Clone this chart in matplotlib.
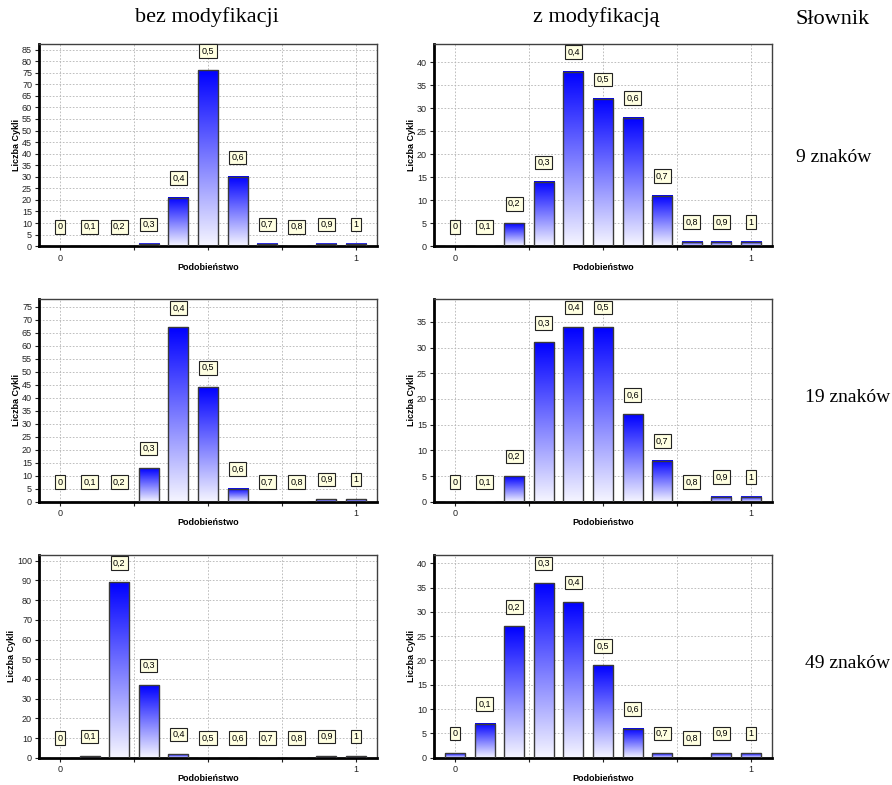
import numpy as np
import matplotlib
matplotlib.use("Agg")
import matplotlib.pyplot as plt
from matplotlib.colors import LinearSegmentedColormap

# Similarity classes 0..1 and cycle counts for each dictionary size
similarity = [0.0, 0.1, 0.2, 0.3, 0.4, 0.5, 0.6, 0.7, 0.8, 0.9, 1.0]
class_labels = ["0", "0,1", "0,2", "0,3", "0,4", "0,5", "0,6", "0,7", "0,8", "0,9", "1"]

plain_9 = [0, 0, 0, 1, 21, 76, 30, 1, 0, 1, 1]
modified_9 = [0, 0, 5, 14, 38, 32, 28, 11, 1, 1, 1]
plain_19 = [0, 0, 0, 13, 67, 44, 5, 0, 0, 1, 1]
modified_19 = [0, 0, 5, 31, 34, 34, 17, 8, 0, 1, 1]
plain_49 = [0, 1, 89, 37, 2, 0, 0, 0, 0, 1, 1]
modified_49 = [1, 7, 27, 36, 32, 19, 6, 1, 0, 1, 1]

column_titles = ["bez modyfikacji", "z modyfikacją", "Słownik"]
row_titles = ["9 znaków", "19 znaków", "49 znaków"]

# (counts, y max, y tick step) per panel, rows top to bottom
panels = [
    [(plain_9, 87.6, 5), (modified_9, 44.1, 5)],
    [(plain_19, 77.8, 5), (modified_19, 39.4, 5)],
    [(plain_49, 102.9, 10), (modified_49, 41.7, 5)],
]

W, H = 892, 785
fig = plt.figure(figsize=(W / 100, H / 100), dpi=100)
sans = "Liberation Sans"
serif = "Liberation Serif"

blue_fade = LinearSegmentedColormap.from_list("fade", ["#f6f6ff", "#0000ff"])
gradient = np.linspace(0, 1, 256).reshape(-1, 1)

col_left = [39, 434]
col_right = [377, 772]
row_top = [43.5, 299.3, 555]
row_bottom = [246.2, 501.7, 757.7]

for r in range(3):
    for c in range(2):
        counts, ymax, step = panels[r][c]
        ax = fig.add_axes([col_left[c] / W, 1 - row_bottom[r] / H,
                           (col_right[c] - col_left[c]) / W,
                           (row_bottom[r] - row_top[r]) / H])
        bars = ax.bar(similarity, counts, width=0.068, facecolor="none",
                      edgecolor="#3a3a3a", linewidth=1.0, zorder=3)
        # blue-to-white gradient inside each bar
        for b in bars:
            h = b.get_height()
            if h <= 0:
                continue
            ax.imshow(gradient, cmap=blue_fade, origin="lower", aspect="auto",
                      extent=(b.get_x(), b.get_x() + b.get_width(), 0, h),
                      zorder=2, interpolation="bilinear")
        # value boxes above the bars
        for x, h, lab in zip(similarity, counts, class_labels):
            ax.annotate(lab, (x, h), xytext=(0, 14), textcoords="offset points",
                        ha="center", va="center", fontsize=6.5, family=sans,
                        zorder=5,
                        bbox=dict(boxstyle="square,pad=0.25", fc="#ffffe1",
                                  ec="#222222", lw=0.8))
        ax.set_xlim(-0.071, 1.071)
        ax.set_ylim(0, ymax)
        ax.set_yticks(np.arange(0, ymax, step))
        ax.set_xticks([0, 0.25, 0.5, 0.75, 1])
        ax.set_xticklabels(["0", "", "", "", "1"])
        ax.grid(True, linestyle=(0, (2, 2)), color="#b4b4b4", linewidth=0.6)
        ax.set_axisbelow(True)
        ax.tick_params(labelsize=6.5, length=3, width=0.8, colors="#222222",
                       pad=2)
        for t in ax.get_xticklabels() + ax.get_yticklabels():
            t.set_family(sans)
        ax.tick_params(axis="x", pad=2.5)
        ax.spines["left"].set_linewidth(2)
        ax.spines["bottom"].set_linewidth(2)
        ax.spines["left"].set_color("black")
        ax.spines["bottom"].set_color("black")
        ax.spines["top"].set_linewidth(1)
        ax.spines["right"].set_linewidth(1)
        ax.spines["top"].set_color("#404040")
        ax.spines["right"].set_color("#404040")
        ax.set_xlabel("Podobieństwo", fontsize=6.5, fontweight="bold",
                      family=sans, labelpad=0)
        ax.set_ylabel("Liczba Cykli", fontsize=6.5, fontweight="bold",
                      family=sans, labelpad=1)

# column headers and row names
fig.text(207 / W, 1 - 17 / H, column_titles[0], ha="center", va="center",
         fontsize=16, family=serif)
fig.text(596 / W, 1 - 17 / H, column_titles[1], ha="center", va="center",
         fontsize=16, family=serif)
fig.text(833 / W, 1 - 19 / H, column_titles[2], ha="center", va="center",
         fontsize=16, family=serif)
for name, y in zip(row_titles, [157, 398, 663]):
    fig.text(834 / W if name.startswith("9") else 848 / W, 1 - y / H, name,
             ha="center", va="center", fontsize=14, family=serif)

fig.savefig("out.png", dpi=100, facecolor="white")
